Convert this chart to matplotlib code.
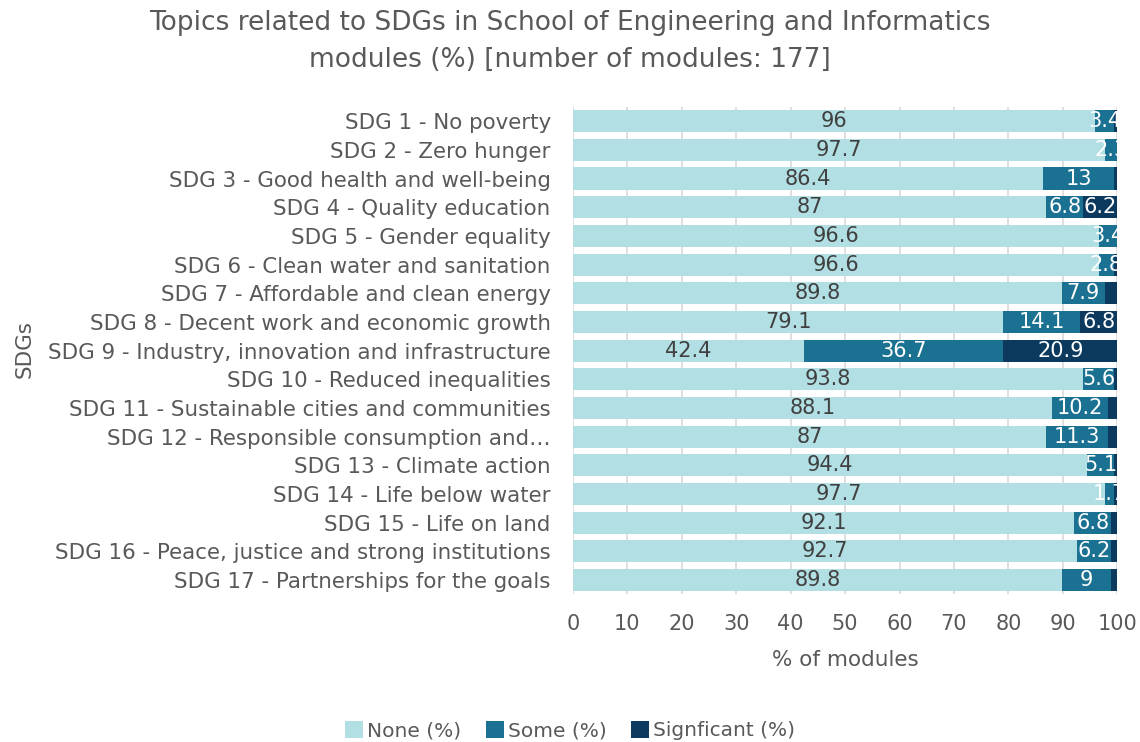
import matplotlib
matplotlib.use("Agg")
import matplotlib.pyplot as plt
import numpy as np

sdgs = ["SDG 1 - No poverty", "SDG 2 - Zero hunger", "SDG 3 - Good health and well-being",
        "SDG 4 - Quality education", "SDG 5 - Gender equality", "SDG 6 - Clean water and sanitation",
        "SDG 7 - Affordable and clean energy", "SDG 8 - Decent work and economic growth",
        "SDG 9 - Industry, innovation and infrastructure", "SDG 10 - Reduced inequalities",
        "SDG 11 - Sustainable cities and communities", "SDG 12 - Responsible consumption and\u2026",
        "SDG 13 - Climate action", "SDG 14 - Life below water", "SDG 15 - Life on land",
        "SDG 16 - Peace, justice and strong institutions", "SDG 17 - Partnerships for the goals"]
none_pct = [96, 97.7, 86.4, 87, 96.6, 96.6, 89.8, 79.1, 42.4, 93.8, 88.1, 87, 94.4, 97.7, 92.1, 92.7, 89.8]
some_pct = [3.4, 2.3, 13, 6.8, 3.4, 2.8, 7.9, 14.1, 36.7, 5.6, 10.2, 11.3, 5.1, 1.7, 6.8, 6.2, 9]
sig_pct = [0.6, 0, 0.6, 6.2, 0, 0.6, 2.3, 6.8, 20.9, 0.6, 1.7, 1.7, 0.6, 0.6, 1.1, 1.1, 1.1]

c_none = "#b1dfe4"
c_some = "#1b7192"
c_sig = "#0b3a5e"
grey = "#595959"

plt.rcParams["font.family"] = "DejaVu Sans"

fig = plt.figure(figsize=(11.4, 7.42), dpi=100)
ax = fig.add_axes([0.5026, 0.199, 0.4774, 0.657])

y = np.arange(len(sdgs))
none_a = np.array(none_pct)
some_a = np.array(some_pct)
sig_a = np.array(sig_pct)
h = 0.77
b1 = ax.barh(y, none_a, height=h, color=c_none, label="None (%)", zorder=2)
b2 = ax.barh(y, some_a, left=none_a, height=h, color=c_some, label="Some (%)", zorder=2)
b3 = ax.barh(y, sig_a, left=none_a + some_a, height=h, color=c_sig, label="Signficant (%)", zorder=2)

fs = 15
for i in range(len(sdgs)):
    ax.text(none_a[i] / 2, y[i], f"{none_pct[i]:g}", ha="center", va="center",
            color="#404040", fontsize=fs, zorder=3)
    if some_a[i] > 0:
        ax.text(none_a[i] + some_a[i] / 2, y[i], f"{some_pct[i]:g}", ha="center", va="center",
                color="white", fontsize=fs, zorder=3)
    if sig_a[i] >= 5:
        ax.text(none_a[i] + some_a[i] + sig_a[i] / 2, y[i], f"{sig_pct[i]:g}", ha="center",
                va="center", color="white", fontsize=fs, zorder=3)

ax.set_xlim(0, 100)
ax.set_ylim(len(sdgs) - 0.5, -0.5)
ax.set_xticks(np.arange(0, 101, 10))
ax.set_yticks(y)
ax.set_yticklabels(sdgs)
ax.tick_params(axis="both", length=0, labelsize=15, labelcolor=grey)
ax.tick_params(axis="y", labelsize=15.4, pad=16)
ax.tick_params(axis="x", pad=14)
for s in ax.spines.values():
    s.set_visible(False)
ax.grid(axis="x", color="#d9d9d9", linewidth=1.2, zorder=0)
ax.set_axisbelow(True)

ax.set_xlabel("% of modules", fontsize=15.5, color=grey, labelpad=12)
fig.text(0.022, 0.53, "SDGs", rotation=90, ha="center", va="center", fontsize=15.5, color=grey)

fig.suptitle("Topics related to SDGs in School of Engineering and Informatics\nmodules (%) [number of modules: 177]",
             x=0.5, y=0.987, fontsize=19, color=grey, linespacing=1.55)

fig.legend(handles=[b1, b2, b3], loc="lower center", bbox_to_anchor=(0.5, -0.022), ncol=3,
           frameon=False, fontsize=14.5, labelcolor=grey, handlelength=0.9, handleheight=0.9,
           handletextpad=0.2, columnspacing=1.2)

fig.savefig("out.png", dpi=100)
